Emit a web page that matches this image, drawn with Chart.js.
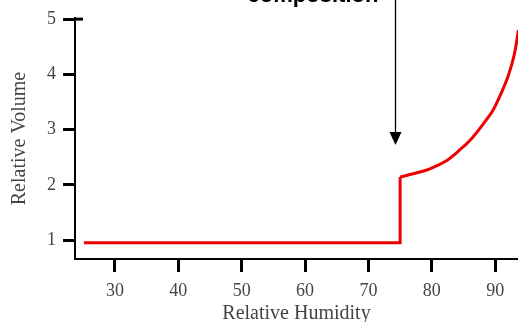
<!DOCTYPE html>
<html>
<head>
<meta charset="utf-8">
<script src="https://cdn.jsdelivr.net/npm/chart.js@4"></script>
<style>
  html, body { margin: 0; padding: 0; background: #fff; overflow: hidden; }
  #wrap { width: 518px; height: 322px; }
</style>
</head>
<body>
<div id="wrap"><canvas id="c" width="518" height="322"></canvas></div>
<script>
// Data
// below the transition: flat, then the jump at ~75 %RH
const humidityLow = [25.1, 30, 40, 50, 60, 70, 75.0, 75.0];
const volumeLow = [0.95, 0.95, 0.95, 0.95, 0.95, 0.95, 0.95, 2.14];
// above the transition: rising curve
const humidityHigh = [75.0, 77.4, 79.5, 82.1, 84.4, 86.3, 88.1, 89.7, 90.95, 92.05, 93.0, 93.65, 94.1];
const volumeHigh = [2.14, 2.21, 2.28, 2.42, 2.63, 2.84, 3.10, 3.36, 3.66, 3.97, 4.35, 4.80, 5.20];
const xTickValues = [30, 40, 50, 60, 70, 80, 90];
const yTickValues = [1, 2, 3, 4, 5];
const annotationText = "composition";
const arrowAt = { x: 74.2, y: 2.72 };

const toPts = (xs, ys) => xs.map((v, i) => ({ x: v, y: ys[i] }));

const annotate = {
  id: 'annotate',
  afterDraw(chart) {
    const { ctx, scales: { x, y } } = chart;
    const ax = Math.round(x.getPixelForValue(arrowAt.x)) + 0.5;
    const tip = y.getPixelForValue(arrowAt.y);
    ctx.save();
    ctx.strokeStyle = '#000';
    ctx.lineWidth = 1.3;
    ctx.beginPath();
    ctx.moveTo(ax, 0);
    ctx.lineTo(ax, tip - 12);
    ctx.stroke();
    ctx.fillStyle = '#000';
    ctx.beginPath();
    ctx.moveTo(ax - 6, tip - 13);
    ctx.lineTo(ax + 6, tip - 13);
    ctx.lineTo(ax, tip);
    ctx.closePath();
    ctx.fill();
    ctx.font = 'bold 22px "Liberation Sans", Arial, sans-serif';
    ctx.textAlign = 'center';
    ctx.textBaseline = 'alphabetic';
    ctx.fillText(annotationText, 313, 2);
    const y5 = y.getPixelForValue(5);
    ctx.lineWidth = 3;
    ctx.beginPath();
    ctx.moveTo(x.left, y5);
    ctx.lineTo(x.left + 8, y5);
    ctx.stroke();
    ctx.restore();
  }
};

const serif = '"Liberation Serif", "Times New Roman", serif';

new Chart(document.getElementById('c'), {
  type: 'line',
  data: {
    datasets: [{
      data: toPts(humidityLow, volumeLow),
      borderColor: 'rgb(236, 0, 0)',
      borderWidth: 3,
      pointRadius: 0,
      tension: 0,
      fill: false
    }, {
      data: toPts(humidityHigh, volumeHigh),
      borderColor: 'rgb(236, 0, 0)',
      borderWidth: 3,
      pointRadius: 0,
      tension: 0.35,
      fill: false
    }]
  },
  options: {
    responsive: false,
    animation: false,
    devicePixelRatio: 1,
    layout: { padding: { top: 18, right: 0, left: 0, bottom: 0 } },
    plugins: { legend: { display: false }, tooltip: { enabled: false } },
    scales: {
      x: {
        type: 'linear',
        min: 23.7,
        max: 93.6,
        afterFit(s) { s.height = 63; },
        afterBuildTicks(s) { s.ticks = xTickValues.map(v => ({ value: v })); },
        ticks: {
          font: { family: serif, size: 18 },
          color: '#444',
          padding: 8,
          maxRotation: 0
        },
        grid: { drawOnChartArea: false, drawTicks: true, tickLength: 13, tickWidth: 3, tickColor: '#000' },
        border: { display: true, color: '#000', width: 2 },
        title: {
          display: true,
          text: 'Relative Humidity',
          font: { family: serif, size: 20 },
          color: '#444',
          padding: { top: 0, bottom: -4 }
        }
      },
      y: {
        type: 'linear',
        min: 0.656,
        max: 5.02,
        afterFit(s) { s.width = 75; },
        afterBuildTicks(s) { s.ticks = yTickValues.map(v => ({ value: v })); },
        ticks: {
          font: { family: serif, size: 18 },
          color: '#444',
          padding: 7
        },
        grid: { drawOnChartArea: false, drawTicks: true, tickLength: 12, tickWidth: 3, tickColor: '#000' },
        border: { display: true, color: '#000', width: 2 },
        title: {
          display: true,
          text: 'Relative Volume',
          font: { family: serif, size: 20 },
          color: '#444',
          padding: { top: 8, bottom: 0 }
        }
      }
    }
  },
  plugins: [annotate]
});
</script>
</body>
</html>
